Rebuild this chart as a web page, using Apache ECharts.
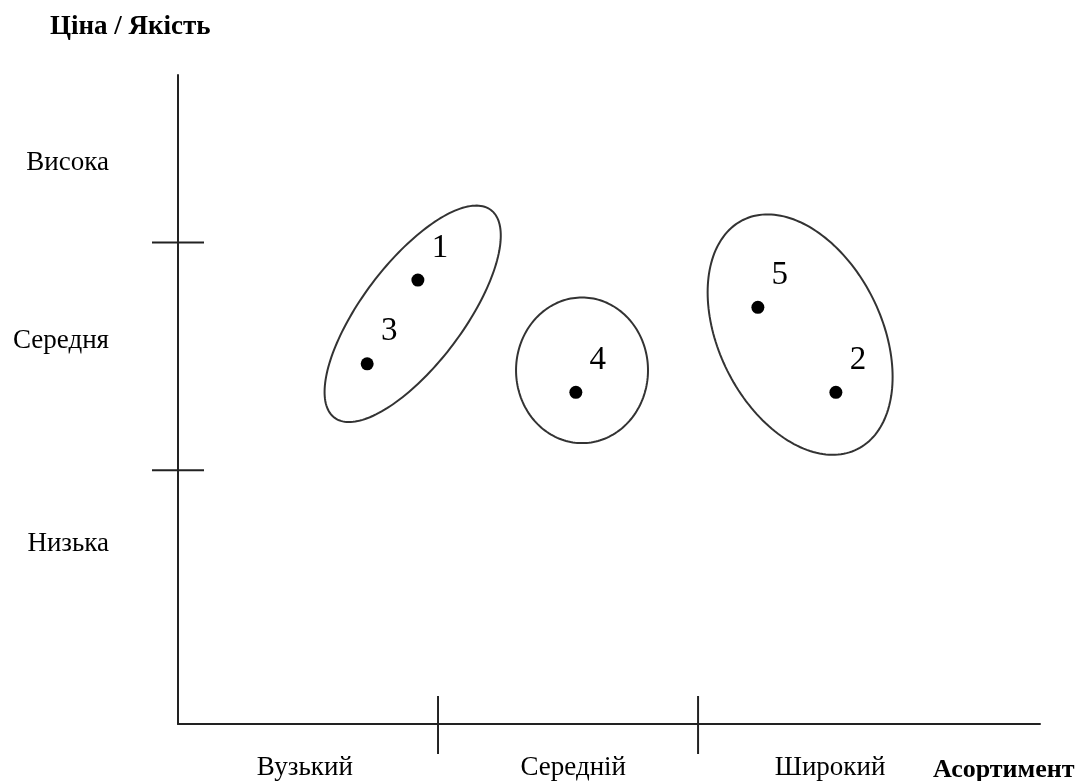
<!DOCTYPE html>
<html>
<head>
<meta charset="utf-8">
<script src="https://cdn.jsdelivr.net/npm/echarts@6/dist/echarts.min.js"></script>
<style>
  html, body { margin: 0; padding: 0; background: #fff; }
  #chart { width: 1080px; height: 781px; }
</style>
</head>
<body>
<div id="chart"></div>
<script>
// осі: одиниці однакові по x та y
var xTicks = [4, 8];
var yTicks = [3.91, 7.42];
var xLabels = ['Вузький', 'Середній', 'Широкий'];
var xLabelPos = [1.95, 6.08, 10.03];
var yLabels = ['Низька', 'Середня', 'Висока'];
var yLabelPos = [2.77, 5.91, 8.65];

// підприємства
var pointNames = ['1', '2', '3', '4', '5'];
var pointX = [3.69, 10.12, 2.91, 6.12, 8.92];
var pointY = [6.84, 5.11, 5.55, 5.11, 6.42];

// групи (еліпси): центр, півосі, кут нахилу
var ellipseCx = [3.61, 6.215, 9.57];
var ellipseCy = [6.32, 5.45, 6.0];
var ellipseA = [2.0, 1.12, 1.97];
var ellipseB = [0.78, 1.015, 1.25];
var ellipseAngle = [53, 90, -63.5];

var FONT = '"Liberation Serif", "Times New Roman", serif';

function createPositioningChart() {
    var chart = echarts.init(document.getElementById('chart'));

    var points = pointNames.map(function (n, i) { return {name: n, value: [pointX[i], pointY[i]]}; });
    var ellipses = ellipseCx.map(function (c, i) { return [c, ellipseCy[i], ellipseA[i], ellipseB[i], ellipseAngle[i]]; });
    var ticks = xTicks.map(function (v) { return [v, 0, 0]; }).concat(yTicks.map(function (v) { return [0, v, 1]; }));

    var option = {
        animation: false,
        grid: {left: 178, right: 40, top: 75, bottom: 56},
        xAxis: {
            type: 'value', min: 0, max: 13.26,
            splitLine: {show: false}, axisTick: {show: false},
            axisLine: {lineStyle: {color: '#222', width: 2}},
            axisLabel: {
                customValues: xLabelPos, margin: 30, fontSize: 27, fontFamily: FONT, color: '#000',
                formatter: function (v) { return xLabels[xLabelPos.indexOf(v)]; }
            }
        },
        yAxis: {
            type: 'value', min: 0, max: 10,
            splitLine: {show: false}, axisTick: {show: false},
            axisLine: {lineStyle: {color: '#222', width: 2}},
            axisLabel: {
                customValues: yLabelPos, margin: 69, fontSize: 27, fontFamily: FONT, color: '#000',
                formatter: function (v) { return yLabels[yLabelPos.indexOf(v)]; }
            }
        },
        graphic: [
            {type: 'text', left: 50, top: 14, style: {text: 'Ціна / Якість', font: 'bold 27px ' + FONT, fill: '#000'}},
            {type: 'text', left: 933, top: 757, style: {text: 'Асортимент', font: 'bold 26px ' + FONT, fill: '#000'}}
        ],
        series: [
            {
                type: 'custom', data: ticks, clip: false, silent: true,
                renderItem: function (params, api) {
                    var p = api.coord([api.value(0), api.value(1)]);
                    var shape = api.value(2) === 0
                        ? {x1: p[0], y1: p[1] - 28, x2: p[0], y2: p[1] + 30}
                        : {x1: p[0] - 26, y1: p[1], x2: p[0] + 26, y2: p[1]};
                    return {type: 'line', shape: shape, style: {stroke: '#222', lineWidth: 2}};
                }
            },
            {
                type: 'custom', data: ellipses, clip: false, silent: true,
                renderItem: function (params, api) {
                    var c = api.coord([api.value(0), api.value(1)]);
                    var a = api.size([api.value(2), 0])[0];
                    var b = api.size([api.value(3), 0])[0];
                    var th = api.value(4) * Math.PI / 180;
                    var pts = [];
                    for (var k = 0; k < 180; k++) {
                        var t = k / 180 * Math.PI * 2;
                        var ex = a * Math.cos(t), ey = b * Math.sin(t);
                        pts.push([c[0] + ex * Math.cos(th) - ey * Math.sin(th),
                                  c[1] - (ex * Math.sin(th) + ey * Math.cos(th))]);
                    }
                    return {type: 'polygon', shape: {points: pts}, style: {fill: 'none', stroke: '#333', lineWidth: 2}};
                }
            },
            {
                type: 'scatter', data: points, symbolSize: 13,
                itemStyle: {color: '#000', opacity: 1},
                label: {
                    show: true, position: 'inside', offset: [22, -32],
                    formatter: '{b}', fontSize: 33, fontFamily: FONT, color: '#000'
                }
            }
        ]
    };

    chart.setOption(option);
}

createPositioningChart();
</script>
</body>
</html>
